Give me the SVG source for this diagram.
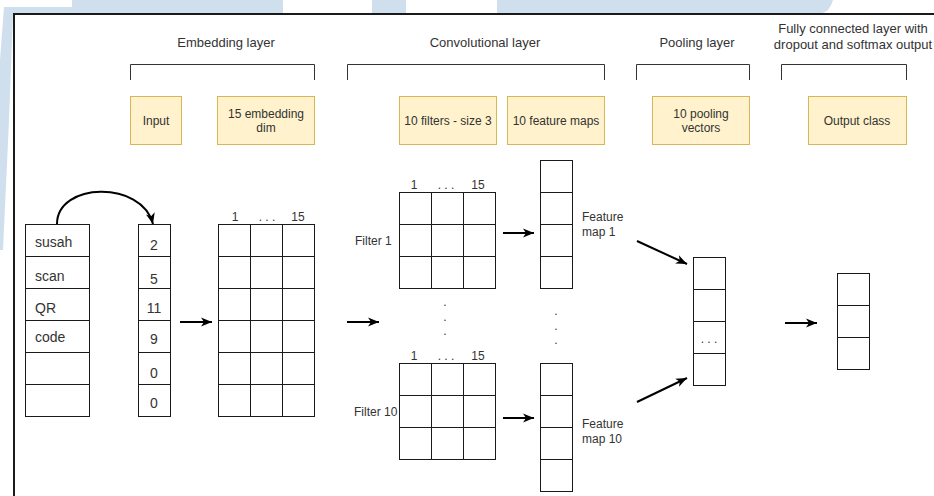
<svg xmlns="http://www.w3.org/2000/svg" width="934" height="496" viewBox="0 0 934 496">
<style>
.t{font-family:"Liberation Sans",Arial,sans-serif;fill:#333;}
.h{font-size:13px;text-anchor:middle;}
.b{font-size:12px;text-anchor:middle;}
.s{font-size:12px;}
.w{font-size:14px;}
.n{font-size:14px;text-anchor:middle;}
.g{fill:#fff;stroke:#1a1a1a;stroke-width:1;}
.gl{stroke:#1a1a1a;stroke-width:1;fill:none;}
.y{fill:#fff2cc;stroke:#d6b656;stroke-width:1;}
.br{fill:none;stroke:#333;stroke-width:1;}
.a{fill:none;stroke:#000;stroke-width:2;marker-end:url(#ah);}
.bg{fill:#cfdfee;}
</style>
<defs>
<marker id="ah" markerUnits="userSpaceOnUse" markerWidth="12" markerHeight="10" refX="11" refY="5" orient="auto">
<path d="M0,0.5 L11,5 L0,9.5 L3,5 Z" fill="#000"/>
</marker>
</defs>
<rect width="934" height="496" fill="#fff"/>
<g id="background">
<path class="bg" d="M72,0 H283 V14 H13 L9,120 L3,250 H0 V60 L4,7 H72 Z"/>
<rect class="bg" x="372" y="0" width="34" height="14"/>
<path class="bg" d="M497,0 H833 Q830,12 820,14 H497 Z"/>
</g>
<g id="frame">
<path d="M13,14 H934 M14,14 V496" fill="none" stroke="#1a1a1a" stroke-width="2"/>
</g>
<g id="headers">
<text class="t h" x="226" y="47">Embedding layer</text>
<text class="t h" x="485" y="47">Convolutional layer</text>
<text class="t h" x="697" y="47">Pooling layer</text>
<text class="t h" x="853" y="33">Fully connected layer with</text>
<text class="t h" x="853" y="49">dropout and softmax output</text>
</g>
<g id="brackets">
<path class="br" d="M130.5,80 V64.5 H314.5 V80"/>
<path class="br" d="M347.5,80 V64.5 H604.5 V80"/>
<path class="br" d="M636.5,80 V64.5 H749.5 V80"/>
<path class="br" d="M781.5,80 V64.5 H906.5 V80"/>
</g>
<g id="box-input"><rect class="y" x="130.5" y="96.5" width="51" height="48"/><text class="t b" x="156" y="125">Input</text></g>
<g id="box-embedding"><rect class="y" x="217.5" y="96.5" width="97" height="48"/><text class="t b" x="266" y="118">15 embedding</text><text class="t b" x="266" y="132">dim</text></g>
<g id="box-filters"><rect class="y" x="399.5" y="96.5" width="97" height="48"/><text class="t b" x="448" y="125">10 filters - size 3</text></g>
<g id="box-featuremaps"><rect class="y" x="507.5" y="96.5" width="97" height="48"/><text class="t b" x="556" y="125">10 feature maps</text></g>
<g id="box-pooling"><rect class="y" x="652.5" y="96.5" width="97" height="48"/><text class="t b" x="701" y="118">10 pooling</text><text class="t b" x="701" y="132">vectors</text></g>
<g id="box-output"><rect class="y" x="808.5" y="96.5" width="98" height="48"/><text class="t b" x="857" y="125">Output class</text></g>

<g id="words">
<rect class="g" x="25.5" y="224.5" width="64" height="192"/>
<path class="gl" d="M25.5,256.5 H89.5 M25.5,288.5 H89.5 M25.5,320.5 H89.5 M25.5,352.5 H89.5 M25.5,384.5 H89.5"/>
<text class="t w" x="35" y="247">susah</text>
<text class="t w" x="35" y="281">scan</text>
<text class="t w" x="35" y="313">QR</text>
<text class="t w" x="35" y="342">code</text>
</g>
<g id="indices">
<rect class="g" x="138.5" y="224.5" width="32" height="192"/>
<path class="gl" d="M138.5,256.5 H170.5 M138.5,288.5 H170.5 M138.5,320.5 H170.5 M138.5,352.5 H170.5 M138.5,384.5 H170.5"/>
<text class="t n" x="154" y="250">2</text>
<text class="t n" x="154" y="284">5</text>
<text class="t n" x="154" y="313">11</text>
<text class="t n" x="154" y="344">9</text>
<text class="t n" x="154" y="378">0</text>
<text class="t n" x="154" y="408">0</text>
</g>
<g id="embedding-matrix">
<rect class="g" x="218.5" y="224.5" width="96" height="192"/>
<path class="gl" d="M250.5,224.5 V416.5 M282.5,224.5 V416.5 M218.5,256.5 H314.5 M218.5,288.5 H314.5 M218.5,320.5 H314.5 M218.5,352.5 H314.5 M218.5,384.5 H314.5"/>
<text class="t b" x="235" y="221">1</text>
<text class="t b" x="267" y="221">. . .</text>
<text class="t b" x="298" y="221">15</text>
</g>
<g id="filter-1">
<rect class="g" x="399.5" y="192.5" width="96" height="96"/>
<path class="gl" d="M431.5,192.5 V288.5 M463.5,192.5 V288.5 M399.5,224.5 H495.5 M399.5,256.5 H495.5"/>
<text class="t b" x="414" y="189">1</text>
<text class="t b" x="446" y="189">. . .</text>
<text class="t b" x="478" y="189">15</text>
<text class="t s" x="355" y="245">Filter 1</text>
</g>
<g id="filter-dots">
<text class="t b" x="445" y="306">.</text>
<text class="t b" x="445" y="321">.</text>
<text class="t b" x="445" y="335">.</text>
</g>
<g id="filter-10">
<rect class="g" x="399.5" y="363.5" width="96" height="96"/>
<path class="gl" d="M431.5,363.5 V459.5 M463.5,363.5 V459.5 M399.5,395.5 H495.5 M399.5,427.5 H495.5"/>
<text class="t b" x="414" y="360">1</text>
<text class="t b" x="446" y="360">. . .</text>
<text class="t b" x="478" y="360">15</text>
<text class="t s" x="354" y="416">Filter 10</text>
</g>
<g id="feature-map-1">
<rect class="g" x="540.5" y="160.5" width="32" height="128"/>
<path class="gl" d="M540.5,192.5 H572.5 M540.5,224.5 H572.5 M540.5,256.5 H572.5"/>
<text class="t s" x="582" y="221">Feature</text>
<text class="t s" x="582" y="236">map 1</text>
</g>
<g id="feature-dots">
<text class="t b" x="556" y="315">.</text>
<text class="t b" x="556" y="330">.</text>
<text class="t b" x="556" y="344">.</text>
</g>
<g id="feature-map-10">
<rect class="g" x="540.5" y="363.5" width="32" height="128"/>
<path class="gl" d="M540.5,395.5 H572.5 M540.5,427.5 H572.5 M540.5,459.5 H572.5"/>
<text class="t s" x="582" y="428">Feature</text>
<text class="t s" x="582" y="443">map 10</text>
</g>
<g id="pooling-vector">
<rect class="g" x="693.5" y="257.5" width="32" height="128"/>
<path class="gl" d="M693.5,289.5 H725.5 M693.5,321.5 H725.5 M693.5,353.5 H725.5"/>
<text class="t b" x="709" y="343">. . .</text>
</g>
<g id="output-vector">
<rect class="g" x="837.5" y="273.5" width="32" height="96"/>
<path class="gl" d="M837.5,305.5 H869.5 M837.5,337.5 H869.5"/>
</g>
<g id="connectors">
<path class="a" d="M57,224 C57,182 142,180 153,224"/>
<path class="a" d="M180,322 H212"/>
<path class="a" d="M347,322 H379"/>
<path class="a" d="M503,233 H534"/>
<path class="a" d="M503,418 H534"/>
<path class="a" d="M637,241 L687,264"/>
<path class="a" d="M637,402 L687,378"/>
<path class="a" d="M785,323 H817"/>
</g>
</svg>
